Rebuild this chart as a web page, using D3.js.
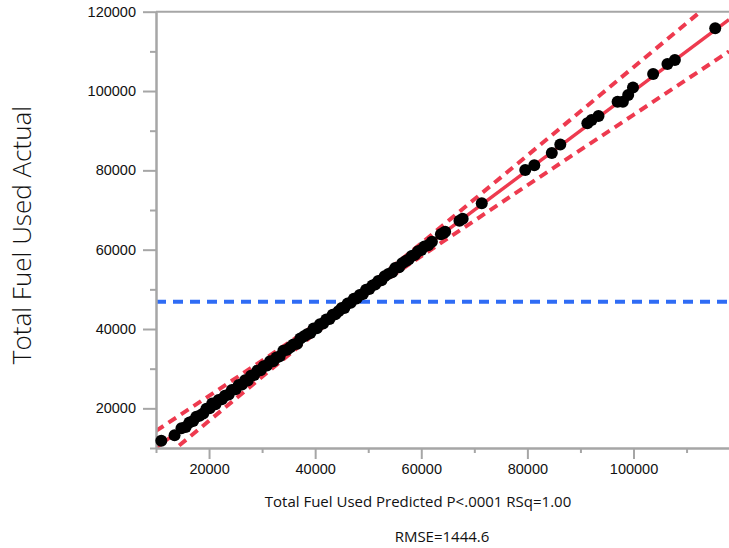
<!DOCTYPE html>
<html>
<head>
<meta charset="utf-8">
<script src="https://cdn.jsdelivr.net/npm/d3@7"></script>
<style>
  body { margin: 0; background: #fff; }
  svg { display: block; font-family: "Open Sans", "Noto Sans", sans-serif; }
</style>
</head>
<body>
<svg id="chart" width="729" height="548"></svg>
<script>
// Actual by Predicted plot for Total Fuel Used

// points: predicted (x) vs actual (y)
var predicted = [
  11000, 13500, 14800, 15600, 16300, 17000, 17600, 18200, 18900, 19500,
  20100, 20600, 21200, 21800, 22400, 23000, 23700, 24300, 25000, 25600,
  26200, 26800, 27300, 27900, 28500, 29100, 29700, 30300, 30900, 31500,
  32100, 32700, 33300, 34000, 34700, 35300, 35900, 36600, 37200, 37900,
  38500, 39100, 39700, 40300, 40900, 41500, 42100, 42700, 43300, 43800,
  44400, 45000, 45500, 46100, 46700, 47300, 47800, 48400, 49000, 49600,
  50200, 50800, 51300, 51900, 52500, 53100, 53800, 54500, 55100, 55800,
  56400, 57000, 57600, 58200, 58800, 59400, 60000, 60600, 61300, 62000,
  63700, 64200, 64500, 67200, 67800, 71400, 79600, 81300, 84600, 86200,
  91300, 92100, 93400, 97000, 98000, 99000, 99900, 103700, 106400, 107800,
  115400
];
var actual = [
  11800, 13200, 15000, 15300, 16400, 16800, 17900, 18100, 18700, 19900,
  20000, 21200, 21000, 22100, 22300, 23200, 23500, 24600, 24800, 25900,
  26000, 27100, 27000, 28200, 28400, 29500, 29600, 30600, 30800, 31900,
  31900, 32800, 33100, 34500, 34800, 35400, 36100, 36300, 37600, 38200,
  38700, 39000, 40100, 40200, 41200, 41400, 42400, 42500, 43600, 43700,
  44500, 45300, 45300, 46400, 46600, 47600, 47700, 48600, 48800, 49900,
  50100, 51000, 51200, 52100, 52300, 53300, 53900, 54300, 55400, 55600,
  56600, 57100, 57500, 58400, 58700, 59600, 59900, 60800, 61100, 62000,
  63900, 64200, 64500, 67300, 67800, 71700, 80100, 81300, 84400, 86500,
  91900, 92700, 93700, 97300, 97300, 99000, 100900, 104300, 106800, 107800,
  115800
];

// fit line (actual = predicted)
var fitX = [10000, 118000];
var fitY = [10000, 118000];

// confidence curves
var bandX     = [10000, 20000, 30000, 40000, 47000, 55000, 70000, 85000, 100000, 118000];
var bandUpper = [14300, 23150, 32050, 41100, 47800, 56200, 72700, 89300, 106000, 126000];
var bandLower = [ 5800, 16850, 27950, 38900, 46200, 53800, 67300, 80700,  94000, 110000];

// mean of actual
var meanY = 46900;

// ticks
var majorTicks = [20000, 40000, 60000, 80000, 100000, 120000];
var minorTicks = [10000, 30000, 50000, 70000, 90000, 110000];
var xMajorTicks = [20000, 40000, 60000, 80000, 100000];

var xTitle = "Total Fuel Used Predicted P<.0001 RSq=1.00";
var rmseText = "RMSE=1444.6";
var yTitle = "Total Fuel Used Actual";

var red = "#ee3a4f";
var blue = "#2f6cf5";
var axisGrey = "#a6a6a6";

var svg = d3.select("#chart");

// plot box (window.top is reserved, so use other names)
var plotLeft = 156, plotRight = 729, plotTop = 11.7, plotBottom = 448;

var x = d3.scaleLinear().domain([10000, 118000]).range([plotLeft, plotRight]);
var y = d3.scaleLinear().domain([10000, 120000]).range([plotBottom, plotTop]);

svg.append("defs").append("clipPath")
    .attr("id", "plotClip")
  .append("rect")
    .attr("x", plotLeft)
    .attr("y", plotTop)
    .attr("width", plotRight - plotLeft)
    .attr("height", plotBottom - plotTop);

var plot = svg.append("g").attr("clip-path", "url(#plotClip)");

// mean line
plot.append("line")
    .attr("x1", plotLeft)
    .attr("x2", plotRight)
    .attr("y1", y(meanY))
    .attr("y2", y(meanY))
    .attr("stroke", blue)
    .attr("stroke-width", 4)
    .attr("stroke-dasharray", "10,7");

// confidence curves
var bandLine = function(vals) {
    return d3.line()
        .x(function(d, i) { return x(bandX[i]); })
        .y(function(d) { return y(d); })
        .curve(d3.curveMonotoneX)(vals);
};
[bandUpper, bandLower].forEach(function(vals) {
    plot.append("path")
        .attr("d", bandLine(vals))
        .attr("fill", "none")
        .attr("stroke", red)
        .attr("stroke-width", 4)
        .attr("stroke-dasharray", "9,6");
});

// fit line
plot.append("line")
    .attr("x1", x(fitX[0]))
    .attr("y1", y(fitY[0]))
    .attr("x2", x(fitX[1]))
    .attr("y2", y(fitY[1]))
    .attr("stroke", red)
    .attr("stroke-width", 3.5);

// axes
svg.append("g")
    .attr("transform", "translate(" + plotLeft + ",0)")
    .call(d3.axisLeft(y).tickValues(majorTicks).tickSize(13).tickSizeOuter(0)
        .tickPadding(7).tickFormat(d3.format("d")));
svg.append("g")
    .attr("transform", "translate(" + plotLeft + ",0)")
    .call(d3.axisLeft(y).tickValues(minorTicks).tickSize(6).tickSizeOuter(0)
        .tickFormat(""));

svg.append("g")
    .attr("transform", "translate(0," + plotBottom + ")")
    .call(d3.axisBottom(x).tickValues(xMajorTicks).tickSize(11).tickSizeOuter(0)
        .tickPadding(5).tickFormat(d3.format("d")));
svg.append("g")
    .attr("transform", "translate(0," + plotBottom + ")")
    .call(d3.axisBottom(x).tickValues(minorTicks).tickSize(5).tickSizeOuter(0)
        .tickFormat(""));

svg.selectAll(".domain, .tick line")
    .attr("stroke", axisGrey)
    .attr("stroke-width", 2);
svg.selectAll(".tick text")
    .attr("fill", "#111")
    .style("font-size", "14.5px");

// top frame
svg.append("line")
    .attr("x1", plotLeft)
    .attr("x2", plotRight)
    .attr("y1", plotTop)
    .attr("y2", plotTop)
    .attr("stroke", axisGrey)
    .attr("stroke-width", 2);

// points on top
svg.append("g")
  .selectAll("circle")
  .data(predicted)
  .enter()
  .append("circle")
    .attr("cx", function(d) { return x(d); })
    .attr("cy", function(d, i) { return y(actual[i]); })
    .attr("r", 6)
    .attr("fill", "#000");

// titles
svg.append("text")
    .attr("x", 418)
    .attr("y", 507)
    .attr("text-anchor", "middle")
    .attr("fill", "#111")
    .style("font-size", "15px")
    .text(xTitle);

svg.append("text")
    .attr("x", 442)
    .attr("y", 542)
    .attr("text-anchor", "middle")
    .attr("fill", "#111")
    .style("font-size", "15px")
    .text(rmseText);

svg.append("text")
    .attr("transform", "translate(31,235) rotate(-90)")
    .attr("text-anchor", "middle")
    .attr("fill", "#111")
    .style("font-size", "26px")
    .style("font-weight", 300)
    .text(yTitle);
</script>
</body>
</html>
